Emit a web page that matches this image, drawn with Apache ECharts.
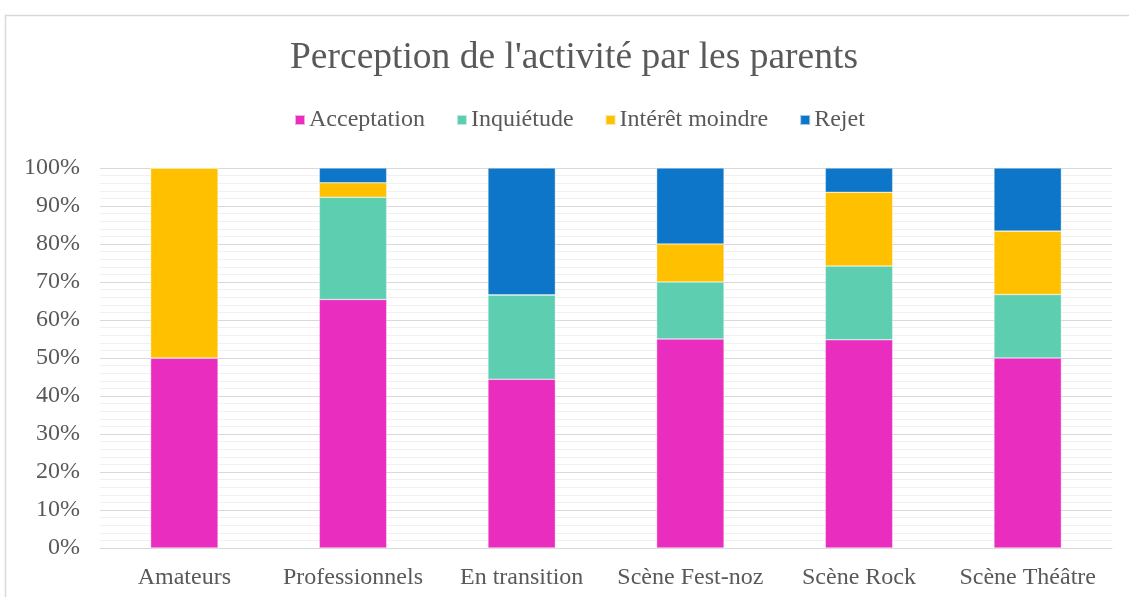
<!DOCTYPE html>
<html>
<head>
<meta charset="utf-8">
<script src="https://cdn.jsdelivr.net/npm/echarts@6/dist/echarts.min.js"></script>
<style>
html,body{margin:0;padding:0;background:#fff;}
#c{width:1129px;height:597px;}
</style>
</head>
<body>
<div id="c"></div>
<script>
const categories = ['Amateurs','Professionnels','En transition','Scène Fest-noz','Scène Rock','Scène Théâtre'];
const acceptation = [50, 65.4, 44.4, 55, 54.8, 50];
const inquietude = [0, 26.9, 22.2, 15, 19.4, 16.7];
const interetMoindre = [50, 3.8, 0, 10, 19.4, 16.7];
const rejet = [0, 3.9, 33.4, 20, 6.4, 16.6];
const seriesNames = ['Acceptation','Inquiétude','Intérêt moindre','Rejet'];
const colors = ['#E92DBE','#5ECEB0','#FFC000','#0E76C9'];

const font = '"Liberation Serif", "DejaVu Serif", serif';
const chart = echarts.init(document.getElementById('c'), null, {renderer:'canvas'});
const dataSets = [acceptation, inquietude, interetMoindre, rejet];

chart.setOption({
  animation:false,
  backgroundColor:'#fff',
  graphic:[{
    type:'rect', left:3, top:13, silent:true,
    shape:{x:0,y:0,width:1200,height:650},
    style:{fill:'none', stroke:'#D9D9D9', lineWidth:1.5}
  }],
  title:{
    text:"Perception de l'activité par les parents",
    left:285, top:34,
    textStyle:{fontFamily:font, fontSize:37.5, fontWeight:'normal', color:'#595959'}
  },
  legend:{
    top:103, left:289,
    itemWidth:10, itemHeight:10, itemGap:31,
    icon:'rect',
    textStyle:{fontFamily:font, fontSize:24, color:'#595959', padding:[0,0,0,-1]},
    data:seriesNames
  },
  grid:{left:100, right:17, top:168, bottom:49, containLabel:false},
  xAxis:{
    type:'category', data:categories,
    axisLine:{show:true, lineStyle:{color:'#D9D9D9', width:1}},
    axisTick:{show:false},
    axisLabel:{fontFamily:font, fontSize:24, color:'#595959', margin:18, interval:0}
  },
  yAxis:{
    type:'value', min:0, max:100, interval:10,
    axisLine:{show:false}, axisTick:{show:false},
    axisLabel:{fontFamily:font, fontSize:24, color:'#595959', margin:20, formatter:'{value}%'},
    splitLine:{show:true, lineStyle:{color:'#D9D9D9', width:1}},
    minorTick:{show:false, splitNumber:5},
    minorSplitLine:{show:true, lineStyle:{color:'#F0F0F0', width:1}}
  },
  series: seriesNames.map((n,i)=>({
    name:n, type:'bar', stack:'total', data:dataSets[i],
    barWidth:'40%',
    itemStyle:{color:colors[i], borderColor:'rgba(255,255,255,0.6)', borderWidth:0.6}
  }))
});
</script>
</body>
</html>
